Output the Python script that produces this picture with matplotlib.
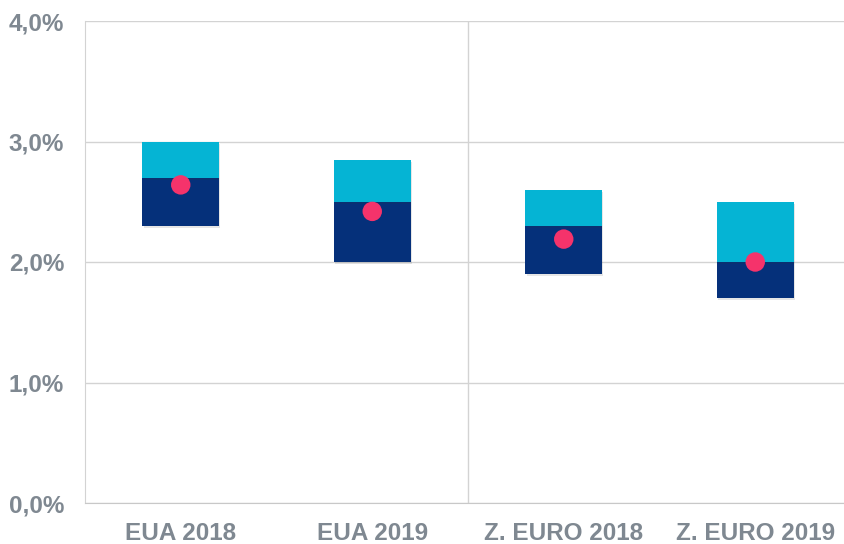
import numpy as np
import matplotlib
matplotlib.use("Agg")
import matplotlib.pyplot as plt
import matplotlib.patheffects as pe
from matplotlib.ticker import FuncFormatter

# values in %
categories = ['EUA 2018', 'EUA 2019', 'Z. EURO 2018', 'Z. EURO 2019']
low = [2.3, 2.0, 1.9, 1.7]
mid = [2.7, 2.5, 2.3, 2.0]
high = [3.0, 2.85, 2.6, 2.5]
point = [2.64, 2.42, 2.19, 2.0]

navy = '#05307A'
cyan = '#05B4D4'
pink = '#F5336B'
grey_txt = '#7F8891'
grid_c = '#D3D3D3'

plt.rcParams['font.family'] = ['Liberation Sans', 'DejaVu Sans']

fig = plt.figure(figsize=(8.45, 5.44), dpi=100)
# axes run slightly past the right edge, like the source picture
ax = fig.add_axes([85/845, 41/544, 766/845, 482/544])

x = np.arange(len(categories))
low = np.array(low); mid = np.array(mid); high = np.array(high)
shadow = [pe.SimplePatchShadow(offset=(1, -1.5), alpha=0.12, shadow_rgbFace='#333333'), pe.Normal()]

b1 = ax.bar(x, mid - low, bottom=low, width=0.4, color=navy, zorder=3)
b2 = ax.bar(x, high - mid, bottom=mid, width=0.4, color=cyan, zorder=3)
for r in list(b1) + list(b2):
    r.set_path_effects(shadow)
ln, = ax.plot(x, point, 'o', ms=14, color=pink, markeredgewidth=0, zorder=5)
ln.set_path_effects([pe.SimpleLineShadow(offset=(1, -1.5), alpha=0.3, shadow_color='#222222'), pe.Normal()])

ax.set_xlim(-0.5, 3.5)
ax.set_ylim(0, 4.0)
ax.set_yticks([0, 1, 2, 3, 4])
ax.yaxis.set_major_formatter(FuncFormatter(lambda v, p: f'{v:.1f}%'.replace('.', ',')))
ax.set_xticks(x)
ax.set_xticklabels(categories)
ax.grid(axis='y', color=grid_c, lw=1, zorder=0)
ax.axvline(1.5, color=grid_c, lw=1, zorder=0)

for s in ['top', 'right']:
    ax.spines[s].set_visible(False)
ax.spines['left'].set_color(grid_c)
ax.spines['bottom'].set_color('#C8C8C8')
ax.tick_params(length=0)
ax.tick_params(axis='y', pad=15)
ax.tick_params(axis='x', pad=14)
for t in ax.get_xticklabels() + ax.get_yticklabels():
    t.set_fontsize(17.5)
    t.set_fontweight('bold')
    t.set_color(grey_txt)

fig.savefig('out.png', dpi=100)
